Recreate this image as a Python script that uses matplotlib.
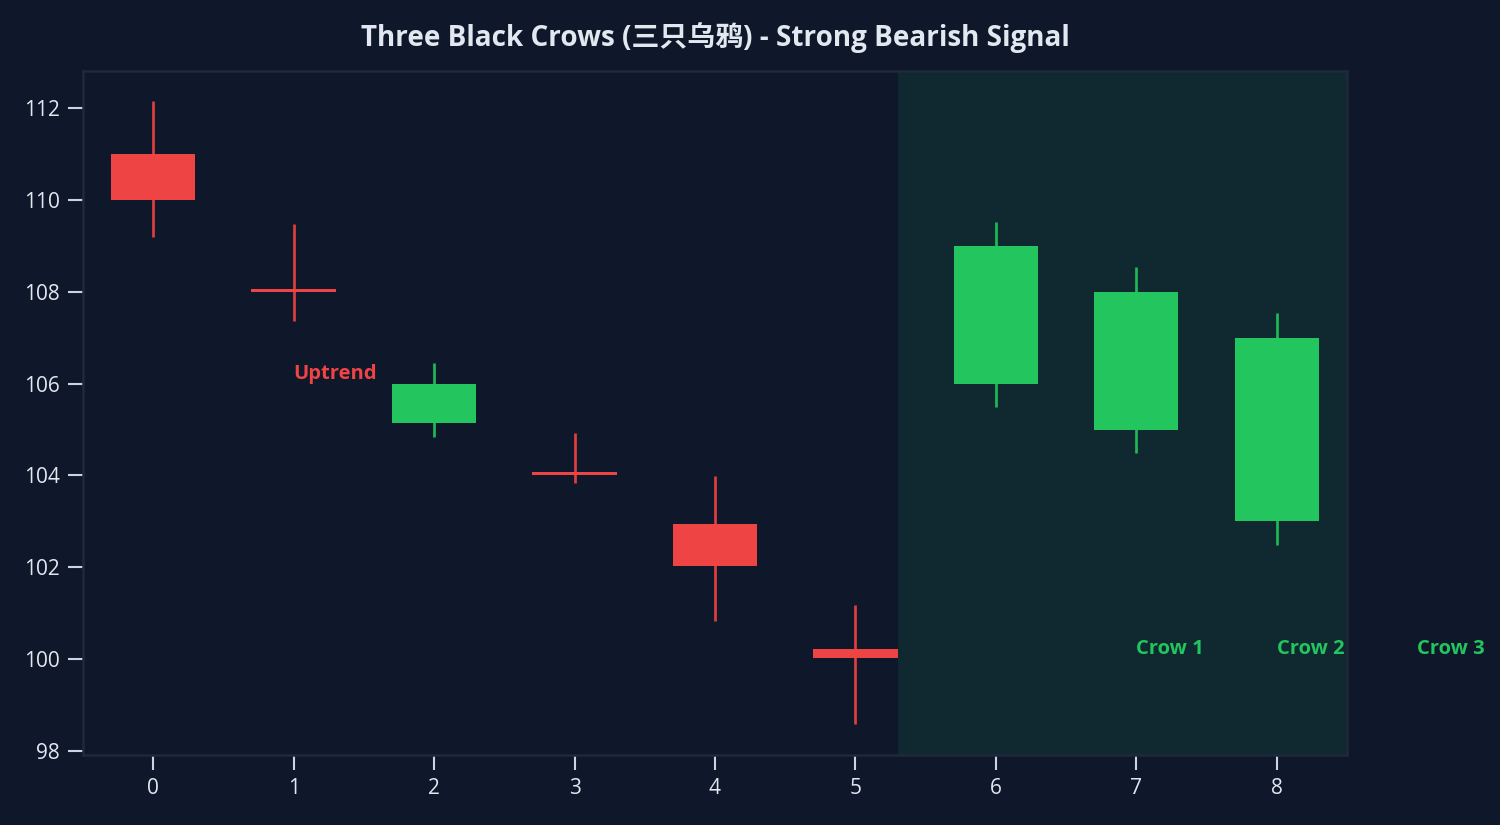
import matplotlib
matplotlib.use("Agg")
import matplotlib.pyplot as plt
import numpy as np

# Data
idx = [0, 1, 2, 3, 4, 5, 6, 7, 8]
opens = [111.0, 108.06, 105.15, 104.07, 102.94, 100.22, 106.0, 105.0, 103.0]
closes = [110.0, 108.0, 106.0, 104.0, 102.03, 100.02, 109.0, 108.0, 107.0]
highs = [112.15, 109.47, 106.45, 104.92, 103.99, 101.18, 109.52, 108.54, 107.54]
lows = [109.2, 107.36, 104.84, 103.84, 100.83, 98.59, 105.49, 104.49, 102.49]
annot_labels = ["Uptrend", "Crow 1", "Crow 2", "Crow 3"]
annot_x = [1, 7, 8, 9]
annot_y = [106.0, 100.0, 100.0, 100.0]
title = "Three Black Crows (三只乌鸦) - Strong Bearish Signal"

BG = "#0f172a"
RED = "#ef4444"
RED_W = "#e03e3e"
GREEN = "#22c55e"
GREEN_W = "#1fb856"
FAM = ["Open Sans", "Noto Sans CJK SC", "DejaVu Sans"]
plt.rcParams["font.family"] = FAM

fig = plt.figure(figsize=(10, 5.5), dpi=150, facecolor=BG)
ax = fig.add_axes([0.0553, 0.0848, 0.8427, 0.8292])
ax.set_facecolor(BG)

ax.axvspan(5.3, 8.5, color=GREEN, alpha=0.1, lw=0, zorder=0)

for i, o, c, h, l in zip(idx, opens, closes, highs, lows):
    up = c >= o
    col = GREEN if up else RED
    wcol = GREEN_W if up else RED_W
    ax.vlines(i, l, h, color=wcol, lw=1.3, zorder=2)
    ax.bar(i, abs(c - o), bottom=min(o, c), width=0.6, color=col, lw=0, zorder=3)

for k, (lab, xx, yy) in enumerate(zip(annot_labels, annot_x, annot_y)):
    ax.text(xx, yy, lab, ha="left", va="bottom", fontsize=9.7, fontweight="bold",
            color=RED if k == 0 else GREEN, zorder=5)

ax.set_xlim(-0.5, 8.5)
ax.set_ylim(97.91, 112.81)
ax.set_xticks(idx)
ax.set_yticks([98, 100, 102, 104, 106, 108, 110, 112])
ax.tick_params(colors="#cbd5e1", labelcolor="#e2e8f0", labelsize=10, length=7, width=1, pad=4)
for s in ax.spines.values():
    s.set_color("#1e293b")
    s.set_linewidth(1.2)

ax.set_title(title, color="#e2e8f0", fontsize=13.4, fontweight="bold", pad=12)

fig.savefig("out.png", dpi=150, facecolor=BG)
